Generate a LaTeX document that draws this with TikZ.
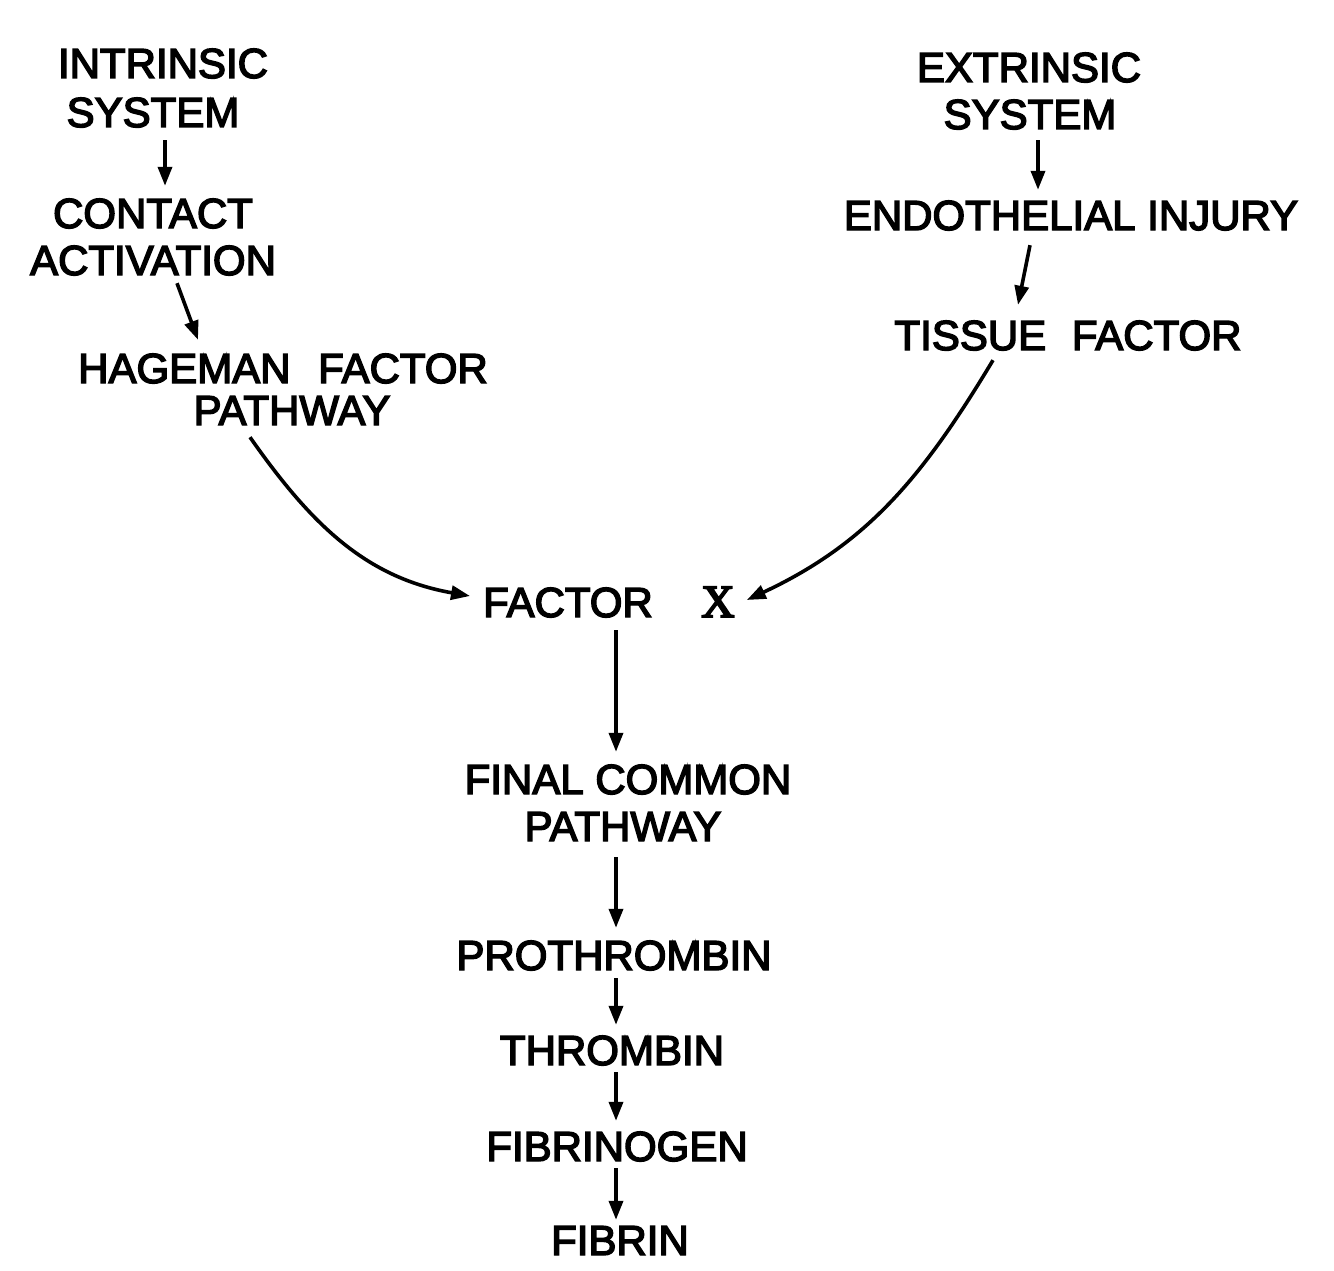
\documentclass[tikz,border=0pt]{standalone}
\usepackage{fontspec}
\newfontfamily\labfont{Liberation Sans}[FakeBold=3.5]
\newfontfamily\romx{Liberation Serif}[FakeBold=4]
\usetikzlibrary{arrows.meta}
\begin{document}
\begin{tikzpicture}[x=1pt,y=1pt,
  lab/.style={inner sep=0pt, text height=30pt, text depth=0pt, font=\labfont\fontsize{42}{50}\selectfont},
  arr/.style={line width=3.6pt, -{Triangle[length=19pt,width=14pt]}},
]
\useasboundingbox (0,0) rectangle (1334,-1271);
\fill[white] (0,0) rectangle (1334,-1271);
\coordinate (col) at (616,0);
% left column
\node[lab] (int1) at (163,-63) {INTRINSIC};
\node[lab] (int2) at (153,-112) {SYSTEM};
\node[lab] (con1) at (153,-213) {CONTACT};
\node[lab] (con2) at (153,-260) {ACTIVATION};
\node[lab] (hag1) at (283,-368) {HAGEMAN\hspace{16pt} FACTOR};
\node[lab] (hag2) at (292,-410) {PATHWAY};
% right column
\node[lab] (ext1) at (1029,-67) {EXTRINSIC};
\node[lab] (ext2) at (1030,-114) {SYSTEM};
\node[lab] (endo) at (1071,-215) {ENDOTHELIAL INJURY};
\node[lab] (tis) at (1068,-335) {TISSUE\hspace{14pt} FACTOR};
% centre
\node[lab] (fac) at (568,-602) {FACTOR};
\node[lab] (facx) at (718,-602) {\romx\fontsize{46}{50}\selectfont X};
\node[lab] (fin1) at (628,-779) {FINAL COMMON};
\node[lab] (fin2) at (623,-826) {PATHWAY};
\node[lab] (pro) at (614,-955) {PROTHROMBIN};
\node[lab] (thr) at (612,-1050) {THROMBIN};
\node[lab] (fbg) at (617,-1146) {FIBRINOGEN};
\node[lab] (fbn) at (620,-1240) {FIBRIN};
% connectors
\draw[arr] ([xshift=12pt,yshift=-13pt]int2.south) -- ([xshift=12pt,yshift=12pt]con1.north);
\draw[arr] ([xshift=24pt,yshift=-8pt]con2.south) -- ([xshift=-85pt,yshift=13pt]hag1.north);
\draw[arr] ([xshift=8pt,yshift=-11pt]ext2.south) -- ([xshift=-33pt,yshift=10pt]endo.north);
\draw[arr] ([xshift=-41pt,yshift=-15pt]endo.south) -- ([xshift=-50pt,yshift=15pt]tis.north);
\draw[arr] ([xshift=-42pt,yshift=-12pt]hag2.south) to[out=-55,in=170] ([xshift=-13pt,yshift=6pt]fac.west);
\draw[arr] ([xshift=-75pt,yshift=-10pt]tis.south) to[out=-121,in=25] ([xshift=12pt,yshift=2pt]facx.east);
\draw[arr, shorten <=13pt, shorten >=12pt] (fac.south -| col) -- (fin1.north -| col);
\draw[arr, shorten <=16pt, shorten >=12pt] (fin2.south -| col) -- (pro.north -| col);
\draw[arr, shorten <=8pt, shorten >=10pt] (pro.south -| col) -- (thr.north -| col);
\draw[arr, shorten <=7pt, shorten >=10pt] (thr.south -| col) -- (fbg.north -| col);
\draw[arr, shorten <=7pt, shorten >=5pt] (fbg.south -| col) -- (fbn.north -| col);
\end{tikzpicture}
\end{document}
